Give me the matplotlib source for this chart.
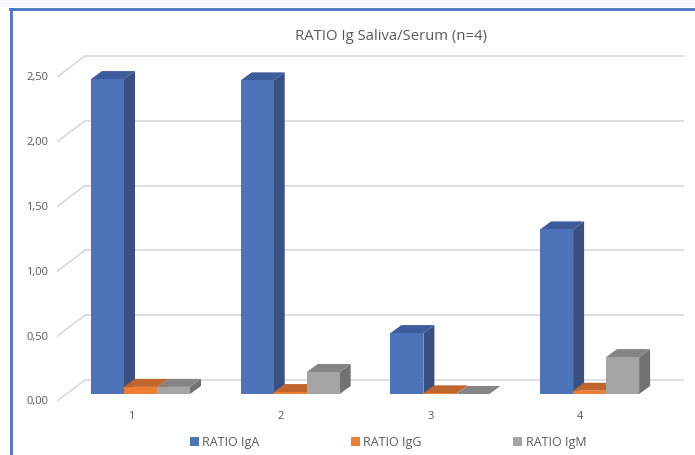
import numpy as np
import matplotlib.pyplot as plt
from matplotlib.patches import Polygon, Rectangle
from matplotlib.lines import Line2D

# --- Data ---
categories = ['1', '2', '3', '4']
series = ['RATIO IgA', 'RATIO IgG', 'RATIO IgM']
ratio_iga = [2.43, 2.42, 0.47, 1.27]
ratio_igg = [0.055, 0.015, 0.005, 0.025]
ratio_igm = [0.055, 0.17, 0.0, 0.285]
yticks = [0.0, 0.5, 1.0, 1.5, 2.0, 2.5]
ytick_labels = ['0,00', '0,50', '1,00', '1,50', '2,00', '2,50']

front = ['#4D73B8', '#ED7D31', '#A5A5A5']
side = ['#3A5082', '#B55E26', '#727272']
top = ['#3D5C9C', '#C0652C', '#858585']

# --- Figure geometry (pixels at dpi=100) ---
W, H = 695, 456
fig = plt.figure(figsize=(W / 100, H / 100), dpi=100)

# axes spans x 57..684 px, y 40..420 px (image coords)
ax_l, ax_r, ax_t, ax_b = 57, 684, 40, 420
ax = fig.add_axes([ax_l / W, 1 - ax_b / H, (ax_r - ax_l) / W, (ax_b - ax_t) / H])
px_x = 149.7                     # px per category
px_y = 129.6                     # px per value unit
x0 = 1 - (131 - ax_l) / px_x
ax.set_xlim(x0, x0 + (ax_r - ax_l) / px_x)
ax.set_ylim(-(ax_b - 395) / px_y, (395 - ax_t) / px_y)
ax.axis('off')

def dx(p):
    return p / px_x

def dy(p):
    return p / px_y

# back wall gridlines + diagonal floor/side lines
grid_c = '#D9D9D9'
for v, lab in zip(yticks, ytick_labels):
    yb = v + dy(14)
    ax.plot([x0 + dx(85 - ax_l), x0 + dx(684 - ax_l)], [yb, yb], color=grid_c, lw=1.2, zorder=1)
    ax.plot([x0, x0 + dx(85 - ax_l)], [v - dy(7), yb], color=grid_c, lw=1.2, zorder=1)
    ax.text(x0 - dx(9), v - dy(7), lab, ha='right', va='center', fontsize=8,
            color='#595959', family='Open Sans')

# bars with pseudo 3D depth
bw = dx(33)
offsets = [dx(-23.5), dx(9.5), dx(42.5)]
ddx, ddy = dx(11), dy(8)
values = [ratio_iga, ratio_igg, ratio_igm]
xs = np.arange(1, len(categories) + 1)
z = 2
for i, xc in enumerate(xs):
    for s in range(3):
        v = values[s][i]
        xl = xc + offsets[s] - bw / 2
        xr = xl + bw
        ax.add_patch(Polygon([(xr, 0), (xr + ddx, ddy), (xr + ddx, v + ddy), (xr, v)],
                             closed=True, fc=side[s], ec='none', zorder=z))
        ax.add_patch(Polygon([(xl, v), (xr, v), (xr + ddx, v + ddy), (xl + ddx, v + ddy)],
                             closed=True, fc=top[s], ec='none', zorder=z))
        ax.bar(xl, v, width=bw, align='edge', color=front[s], zorder=z + 0.5)
        z += 1
    ax.text(xc, -dy(22), categories[i], ha='center', va='center', fontsize=8,
            color='#595959', family='Open Sans')

# title
fig.text(391 / W, 1 - 36 / H, 'RATIO Ig Saliva/Serum (n=4)', ha='center', va='center',
         fontsize=10.7, color='#595959', family='Open Sans')

# legend
handles = [Rectangle((0, 0), 1, 1, fc=c, ec='none') for c in front]
leg = fig.legend(handles, series, loc='center', bbox_to_anchor=(388 / W, 1 - 443 / H),
                 ncol=3, frameon=False, handlelength=0.7, handleheight=0.7,
                 handletextpad=0.3, columnspacing=7.3, prop={'family': 'Open Sans', 'size': 9})
for t in leg.get_texts():
    t.set_color('#595959')

# chart frame
fig.patches.append(Rectangle((0, 1 - 8 / H), 1, 8 / H, transform=fig.transFigure,
                             fc='#F6F8FA', ec='none', zorder=0))
fig.add_artist(Line2D([10 / W, 1], [1 - 9.5 / H, 1 - 9.5 / H], color='#4472C4', lw=2))
fig.add_artist(Line2D([11 / W, 11 / W], [0, 1 - 9.5 / H], color='#4472C4', lw=2))

fig.savefig('out.png', dpi=100)
